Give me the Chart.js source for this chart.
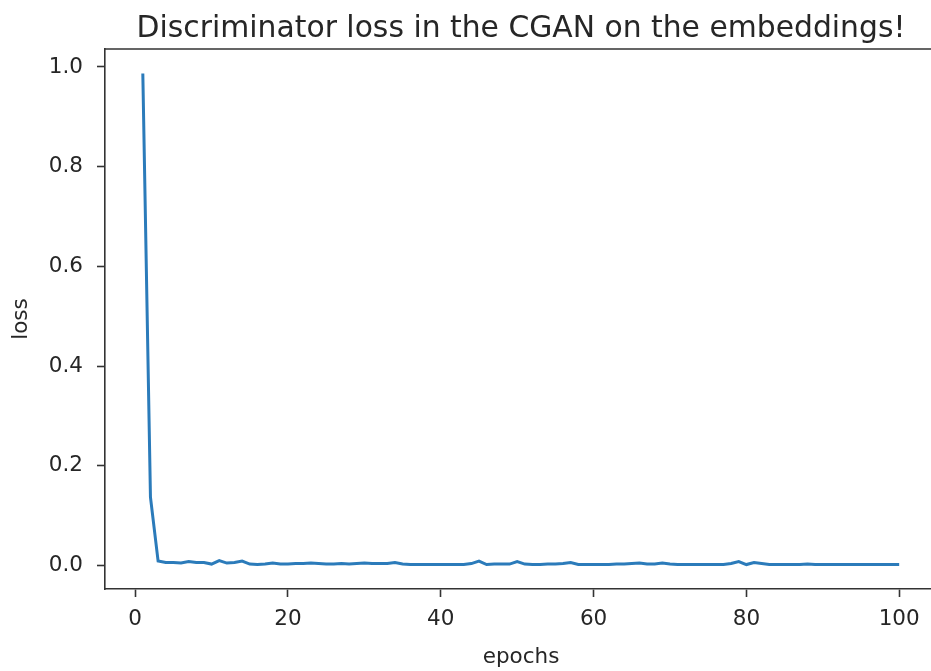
<!DOCTYPE html>
<html>
<head>
<meta charset="utf-8">
<script src="https://cdn.jsdelivr.net/npm/chart.js@4.4.1/dist/chart.umd.min.js"></script>
<style>
  html, body { margin: 0; padding: 0; background: #fff; overflow: hidden; }
  #wrap { width: 937px; height: 671px; }
</style>
</head>
<body>
<div id="wrap"><canvas id="c" width="937" height="671"></canvas></div>
<script>
// Discriminator loss per training epoch
const epochs = Array.from({ length: 100 }, (_, i) => i + 1);
const discLoss = [
  0.987, 0.137, 0.009, 0.006, 0.006, 0.005, 0.008, 0.006, 0.006, 0.003,
  0.010, 0.005, 0.006, 0.009, 0.003, 0.002, 0.003, 0.005, 0.003, 0.003,
  0.004, 0.004, 0.005, 0.004, 0.003, 0.003, 0.004, 0.003, 0.004, 0.005,
  0.004, 0.004, 0.004, 0.006, 0.003, 0.002, 0.002, 0.002, 0.002, 0.002,
  0.002, 0.002, 0.002, 0.004, 0.009, 0.002, 0.003, 0.003, 0.003, 0.008,
  0.003, 0.002, 0.002, 0.003, 0.003, 0.004, 0.006, 0.002, 0.002, 0.002,
  0.002, 0.002, 0.003, 0.003, 0.004, 0.005, 0.003, 0.003, 0.005, 0.003,
  0.002, 0.002, 0.002, 0.002, 0.002, 0.002, 0.002, 0.004, 0.008, 0.002,
  0.006, 0.004, 0.002, 0.002, 0.002, 0.002, 0.002, 0.003, 0.002, 0.002,
  0.002, 0.002, 0.002, 0.002, 0.002, 0.002, 0.002, 0.002, 0.002, 0.002
];
const xTickValues = [0, 20, 40, 60, 80, 100];
const yTickValues = [0.0, 0.2, 0.4, 0.6, 0.8, 1.0];
const chartTitle = 'Discriminator loss in the CGAN on the embeddings!';

const FONT = "'DejaVu Sans', sans-serif";
const TEXT = '#262626';
const SPINE = '#333333';

// top/right spines, plus the title centred over the plotting area
const axesBox = {
  id: 'axesBox',
  afterDraw(chart) {
    const { ctx, chartArea: a } = chart;
    ctx.save();
    ctx.strokeStyle = SPINE;
    ctx.lineWidth = 1.6;
    ctx.beginPath();
    ctx.moveTo(a.left, a.top);
    ctx.lineTo(a.right, a.top);
    ctx.lineTo(a.right, a.bottom);
    ctx.stroke();

    ctx.fillStyle = TEXT;
    ctx.font = "29.8px 'DejaVu Sans', sans-serif";
    ctx.textAlign = 'center';
    ctx.textBaseline = 'alphabetic';
    ctx.fillText(chartTitle, (a.left + a.right) / 2, 37);
    ctx.restore();
  }
};

new Chart(document.getElementById('c'), {
  type: 'line',
  data: {
    datasets: [{
      data: epochs.map((e, i) => ({ x: e, y: discLoss[i] })),
      borderColor: '#2b7bba',
      borderWidth: 3,
      pointRadius: 0,
      tension: 0,
      fill: false
    }]
  },
  options: {
    responsive: false,
    animation: false,
    layout: { padding: { left: 0, right: 0, top: 49, bottom: 0 } },
    plugins: {
      legend: { display: false },
      tooltip: { enabled: false },
      title: { display: false }
    },
    scales: {
      x: {
        type: 'linear',
        min: -3.95,
        max: 104.95,
        afterBuildTicks: s => { s.ticks = xTickValues.map(v => ({ value: v })); },
        afterFit: s => { s.height = 82; },
        ticks: {
          color: TEXT,
          font: { family: FONT, size: 21.5 },
          padding: 10,
          maxRotation: 0,
          callback: v => String(v)
        },
        grid: { drawOnChartArea: false, drawTicks: true, tickLength: 8, tickWidth: 1.6, color: SPINE },
        border: { display: true, color: SPINE, width: 1.6 },
        title: {
          display: true,
          text: 'epochs',
          color: TEXT,
          font: { family: FONT, size: 21.5 },
          padding: { top: 4, bottom: 1 }
        }
      },
      y: {
        type: 'linear',
        min: -0.047,
        max: 1.036,
        afterBuildTicks: s => { s.ticks = yTickValues.map(v => ({ value: v })); },
        afterFit: s => { s.width = 105; },
        ticks: {
          color: TEXT,
          font: { family: FONT, size: 21.5 },
          padding: 14,
          callback: v => v.toFixed(1)
        },
        grid: { drawOnChartArea: false, drawTicks: true, tickLength: 8, tickWidth: 1.6, color: SPINE },
        border: { display: true, color: SPINE, width: 1.6 },
        title: {
          display: true,
          text: 'loss',
          color: TEXT,
          font: { family: FONT, size: 21.5 },
          padding: { top: 9, bottom: 0 }
        }
      }
    }
  },
  plugins: [axesBox]
});
</script>
</body>
</html>
